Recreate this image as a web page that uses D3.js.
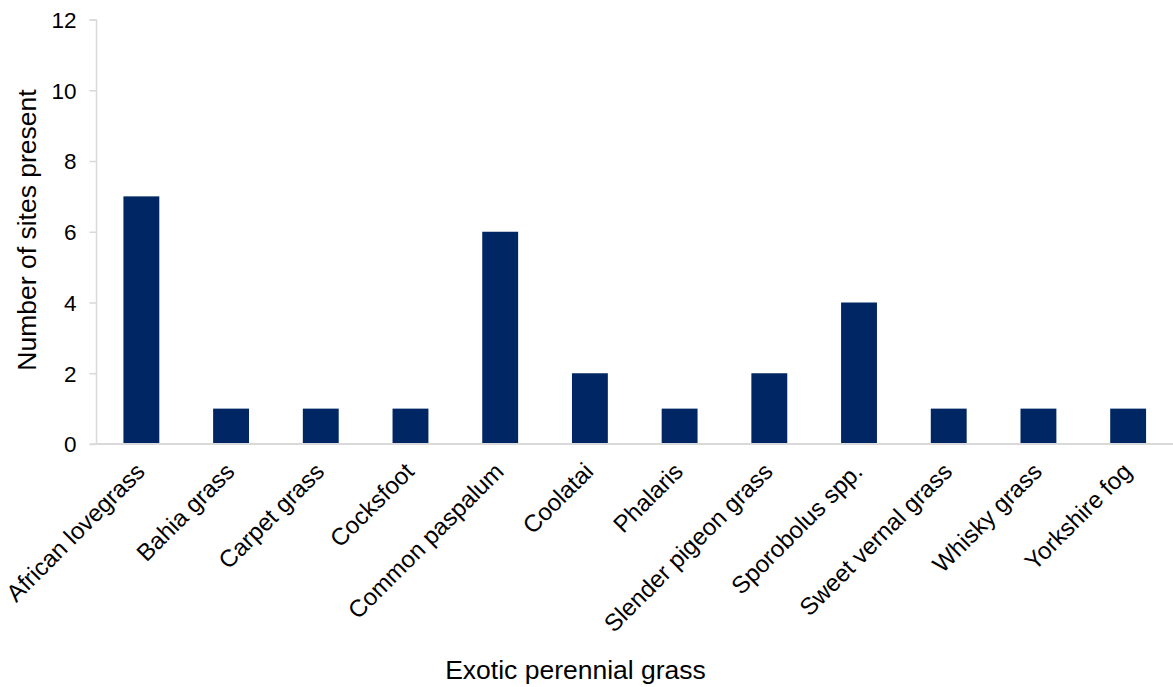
<!DOCTYPE html>
<html>
<head>
<meta charset="utf-8">
<script src="https://cdn.jsdelivr.net/npm/d3@7"></script>
<style>
  body { margin: 0; background: #fff; }
  text { font-family: "Liberation Sans", Arial, sans-serif; fill: #000; }
</style>
</head>
<body>
<script>
// data
var categories = ["African lovegrass", "Bahia grass", "Carpet grass", "Cocksfoot",
  "Common paspalum", "Coolatai", "Phalaris", "Slender pigeon grass",
  "Sporobolus spp.", "Sweet vernal grass", "Whisky grass", "Yorkshire fog"];
var sites = [7, 1, 1, 1, 6, 2, 1, 2, 4, 1, 1, 1];
var yTicks = [0, 2, 4, 6, 8, 10, 12];

// margin
var margin = {top: 19.5, right: 0, bottom: 243, left: 96.5},
    width = 1173 - margin.left - margin.right,
    height = 687 - margin.top - margin.bottom;

var svg = d3.select("body").append("svg")
    .attr("width", 1173)
    .attr("height", 687);

var g = svg.append("g")
    .attr("transform", "translate(" + margin.left + "," + margin.top + ")");

var x = d3.scaleBand()
    .domain(categories)
    .range([0, width])
    .paddingInner(0.6)
    .paddingOuter(0.3);

var y = d3.scaleLinear()
    .domain([0, 12])
    .range([height, 0]);

// bars
g.selectAll(".bar")
    .data(sites)
  .enter().append("rect")
    .attr("class", "bar")
    .attr("x", function(d, i) { return x(categories[i]); })
    .attr("y", function(d) { return y(d); })
    .attr("width", x.bandwidth())
    .attr("height", function(d) { return height - y(d); })
    .style("fill", "#002663");

// y axis
var yAxis = g.append("g")
    .call(d3.axisLeft(y).tickValues(yTicks).tickSize(7).tickPadding(13));
yAxis.selectAll("line, path").attr("stroke", "#d9d9d9").attr("stroke-width", 1.5);
yAxis.select(".domain").attr("d", "M-7,0.5H0V" + height + "H-7");
yAxis.selectAll("text").style("font-size", "22.5px").attr("dy", "0.35em");

// x axis
var xAxis = g.append("g")
    .attr("transform", "translate(0," + height + ")")
    .call(d3.axisBottom(x).tickSize(0).tickPadding(0));
xAxis.select(".domain").attr("stroke", "#d9d9d9").attr("stroke-width", 2)
    .attr("d", "M0,0H" + width);
xAxis.selectAll("text")
    .style("font-size", "24px")
    .style("text-anchor", "end")
    .attr("y", 0)
    .attr("dy", null)
    .attr("transform", "translate(5,29) rotate(-45)");

// axis titles
svg.append("text")
    .attr("x", 575.5)
    .attr("y", 679)
    .attr("text-anchor", "middle")
    .style("font-size", "26.5px")
    .text("Exotic perennial grass");

svg.append("text")
    .attr("transform", "translate(36,230) rotate(-90)")
    .attr("text-anchor", "middle")
    .style("font-size", "26.5px")
    .text("Number of sites present");
</script>
</body>
</html>
